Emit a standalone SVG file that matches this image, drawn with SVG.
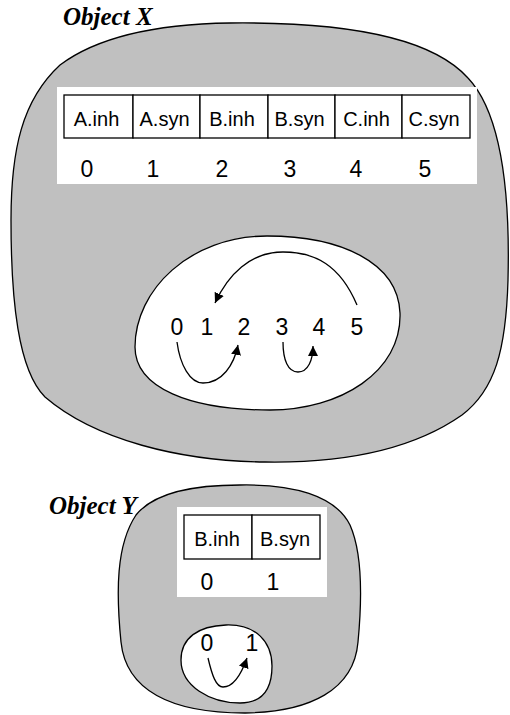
<svg xmlns="http://www.w3.org/2000/svg" width="510" height="715" viewBox="0 0 510 715">
<defs>
<style>
.blob{fill:#c0c0c0;stroke:#000;stroke-width:1.3}
.inner{fill:#fff;stroke:#000;stroke-width:1.3}
.panel{fill:#fff;stroke:none}
.cell{fill:#fff;stroke:#000;stroke-width:1.3}
.lbl{font-family:"Liberation Sans",Arial,sans-serif;font-size:20px;fill:#000;text-anchor:middle}
.num{font-family:"Liberation Sans",Arial,sans-serif;font-size:23px;fill:#000;text-anchor:middle}
.title{font-family:"Liberation Serif","Times New Roman",serif;font-size:25px;font-weight:bold;font-style:italic;fill:#000}
.arc{fill:none;stroke:#000;stroke-width:1.3}
</style>
<marker id="ah" viewBox="0 0 10 10" refX="10" refY="5" markerWidth="10" markerHeight="10" markerUnits="userSpaceOnUse" orient="auto">
<path d="M0,0 L10,5 L0,10 Z" fill="#000"/>
</marker>
</defs>

<g id="objectX">
<path class="blob" d="M 230 23 C 320 22, 425 30, 468 78 C 503 115, 510 200, 508 280 C 506 350, 495 390, 462 415 C 405 455, 330 463, 265 462 C 180 461, 95 440, 45 397 C 18 370, 11 300, 11 220 C 11 150, 22 100, 60 65 C 100 35, 160 24, 230 23 Z"/>
<rect class="panel" x="57" y="87" width="420" height="97"/>
<g id="tableX">
<rect class="cell" x="64" y="95" width="69" height="43"/>
<rect class="cell" x="133" y="95" width="67" height="43"/>
<rect class="cell" x="200" y="95" width="68" height="43"/>
<rect class="cell" x="268" y="95" width="67" height="43"/>
<rect class="cell" x="335" y="95" width="67" height="43"/>
<rect class="cell" x="402" y="95" width="68" height="43"/>
<text class="lbl" x="96.5" y="126">A.inh</text>
<text class="lbl" x="164.5" y="126">A.syn</text>
<text class="lbl" x="232" y="126">B.inh</text>
<text class="lbl" x="299.5" y="126">B.syn</text>
<text class="lbl" x="366.5" y="126">C.inh</text>
<text class="lbl" x="434" y="126">C.syn</text>
</g>
<text class="num" x="87" y="177">0</text>
<text class="num" x="153" y="177">1</text>
<text class="num" x="222" y="177">2</text>
<text class="num" x="290" y="177">3</text>
<text class="num" x="356" y="177">4</text>
<text class="num" x="425" y="177">5</text>
</g>
<text id="titleX" class="title" x="63" y="25">Object X</text>

<g id="graphX">
<path class="inner" d="M 267 236 C 340 236, 398 262, 400 313 C 402 372, 340 410, 270 410 C 190 410, 135 388, 135 347 C 135 290, 190 236, 267 236 Z"/>
<text class="num" x="177" y="335">0</text>
<text class="num" x="207" y="335">1</text>
<text class="num" x="244" y="335">2</text>
<text class="num" x="282" y="335">3</text>
<text class="num" x="319" y="335">4</text>
<text class="num" x="357" y="335">5</text>
</g>

<g id="objectY">
<path class="blob" d="M 240 485 C 292 484, 335 495, 350 525 C 362 552, 362 600, 358 642 C 354 690, 310 712, 245 713 C 170 713, 126 690, 121 642 C 116 592, 116 545, 136 515 C 156 490, 200 485, 240 485 Z"/>
<rect class="panel" x="177" y="507" width="150" height="90"/>
<rect class="cell" x="184" y="515" width="68" height="44"/>
<rect class="cell" x="252" y="515" width="68" height="44"/>
<text class="lbl" x="217" y="546">B.inh</text>
<text class="lbl" x="285" y="546">B.syn</text>
<text class="num" x="207" y="590">0</text>
<text class="num" x="273" y="590">1</text>
</g>
<text id="titleY" class="title" x="49" y="514">Object Y</text>

<g id="graphY">
<path class="inner" d="M 226 625 C 256 624, 272 642, 272 666 C 272 690, 262 703, 240 703 C 210 703, 181 686, 181 660 C 181 638, 198 626, 226 625 Z"/>
<text class="num" x="207" y="651">0</text>
<text class="num" x="252" y="651">1</text>
</g>

<g id="connectors">
<path class="arc" marker-end="url(#ah)" d="M 357 305 C 340 265, 315 252, 283 252 C 250 252, 228 275, 215 303"/>
<path class="arc" marker-end="url(#ah)" d="M 177 342 C 180 365, 190 383, 203 383 C 222 383, 234 365, 238 345"/>
<path class="arc" marker-end="url(#ah)" d="M 283 342 C 283 360, 288 372, 298 372 C 308 372, 313 360, 313 346"/>
<path class="arc" marker-end="url(#ah)" d="M 208 658 C 212 675, 216 687, 223 687 C 233 687, 241 675, 247 658"/>
</g>
</svg>
